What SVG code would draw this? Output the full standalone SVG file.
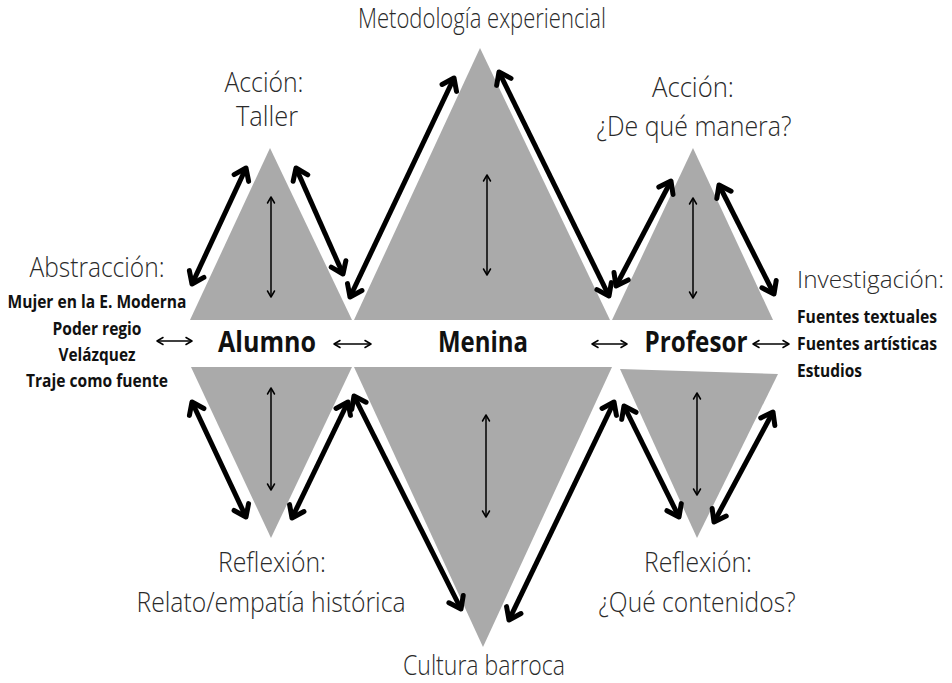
<svg xmlns="http://www.w3.org/2000/svg" width="952" height="683" viewBox="0 0 952 683">
<style>
.tri{fill:#aaaaaa}
.thick{stroke:#000;stroke-width:5;fill:none;marker-start:url(#ah);marker-end:url(#ah)}
.thin{stroke:#000;stroke-width:1.5;fill:none;marker-start:url(#at);marker-end:url(#at)}
.lt{font-family:"Open Sans","Liberation Sans",sans-serif;font-weight:300;font-size:27px;fill:#2a2a2a;text-anchor:middle}
.bd{font-family:"Open Sans","Liberation Sans",sans-serif;font-weight:700;fill:#111;text-anchor:middle}
.big{font-size:28px}
.sm{font-size:17px}
</style>
<defs>
<marker id="ah" viewBox="-14 -11 18 22" markerWidth="18" markerHeight="22" refX="0" refY="0" orient="auto-start-reverse" markerUnits="userSpaceOnUse">
<path d="M-11,-8 L0,0 L-11,8" fill="none" stroke="#000" stroke-width="5" stroke-linecap="round" stroke-linejoin="round"/>
</marker>
<marker id="at" viewBox="-8 -5 10 10" markerWidth="10" markerHeight="10" refX="0" refY="0" orient="auto-start-reverse" markerUnits="userSpaceOnUse">
<path d="M-6,-3.5 L0,0 L-6,3.5" fill="none" stroke="#000" stroke-width="1.5" stroke-linecap="round" stroke-linejoin="round"/>
</marker>
</defs>
<rect width="952" height="683" fill="#fff"/>

<g id="tri-alumno-top"><polygon class="tri" points="270,148 190,320 352,320"/></g>
<g id="tri-menina-top"><polygon class="tri" points="480,48 354,320 610,320"/></g>
<g id="tri-profesor-top"><polygon class="tri" points="693,148 612,320 773,320"/></g>
<g id="tri-alumno-bottom"><polygon class="tri" points="191,367 352,367 271,538"/></g>
<g id="tri-menina-bottom"><polygon class="tri" points="354,367 612,367 483,647"/></g>
<g id="tri-profesor-bottom"><polygon class="tri" points="620,369 778,374 697,538"/></g>

<g id="connectors">
<line class="thick" x1="192" y1="284" x2="246" y2="168"/>
<line class="thick" x1="296" y1="168" x2="343" y2="274"/>
<line class="thick" x1="350" y1="297" x2="454" y2="78"/>
<line class="thick" x1="499" y1="72" x2="609" y2="296"/>
<line class="thick" x1="616" y1="286" x2="671" y2="181"/>
<line class="thick" x1="719" y1="185" x2="774" y2="294"/>
<line class="thick" x1="192" y1="402" x2="246" y2="517"/>
<line class="thick" x1="292" y1="518" x2="348" y2="402"/>
<line class="thick" x1="354" y1="396" x2="461" y2="609"/>
<line class="thick" x1="509" y1="620" x2="614" y2="402"/>
<line class="thick" x1="624" y1="406" x2="679" y2="517"/>
<line class="thick" x1="714" y1="522" x2="773" y2="412"/>
<line class="thin" x1="271" y1="197" x2="271" y2="297"/>
<line class="thin" x1="487" y1="175" x2="487" y2="275"/>
<line class="thin" x1="693" y1="198" x2="693" y2="298"/>
<line class="thin" x1="271" y1="388" x2="271" y2="490"/>
<line class="thin" x1="486" y1="415" x2="486" y2="517"/>
<line class="thin" x1="697" y1="393" x2="697" y2="495"/>
<line class="thin" x1="157" y1="341" x2="192" y2="341"/>
<line class="thin" x1="334" y1="344" x2="371" y2="344"/>
<line class="thin" x1="592" y1="344" x2="627" y2="344"/>
<line class="thin" x1="753" y1="344" x2="789" y2="344"/>
</g>

<g id="label-metodologia"><text class="lt" x="482" y="28" textLength="248" lengthAdjust="spacingAndGlyphs">Metodología experiencial</text></g>
<g id="label-accion-taller">
<text class="lt" x="264" y="92" textLength="79" lengthAdjust="spacingAndGlyphs">Acción:</text>
<text class="lt" x="267" y="126" textLength="62" lengthAdjust="spacingAndGlyphs">Taller</text>
</g>
<g id="label-accion-manera">
<text class="lt" x="693" y="97" textLength="82" lengthAdjust="spacingAndGlyphs">Acción:</text>
<text class="lt" x="694" y="136" textLength="195" lengthAdjust="spacingAndGlyphs">¿De qué manera?</text>
</g>
<g id="label-abstraccion">
<text class="lt" x="97" y="277" textLength="135" lengthAdjust="spacingAndGlyphs">Abstracción:</text>
<text class="bd sm" x="97" y="308" textLength="179" lengthAdjust="spacingAndGlyphs">Mujer en la E. Moderna</text>
<text class="bd sm" x="97" y="335" textLength="89" lengthAdjust="spacingAndGlyphs">Poder regio</text>
<text class="bd sm" x="97" y="361" textLength="77" lengthAdjust="spacingAndGlyphs">Velázquez</text>
<text class="bd sm" x="97" y="387" textLength="142" lengthAdjust="spacingAndGlyphs">Traje como fuente</text>
</g>
<g id="label-investigacion">
<text class="lt" x="797" y="288" style="text-anchor:start;font-size:23.5px" textLength="147" lengthAdjust="spacingAndGlyphs">Investigación:</text>
<text class="bd sm" x="797" y="323" style="text-anchor:start" textLength="140" lengthAdjust="spacingAndGlyphs">Fuentes textuales</text>
<text class="bd sm" x="797" y="350" style="text-anchor:start" textLength="140" lengthAdjust="spacingAndGlyphs">Fuentes artísticas</text>
<text class="bd sm" x="797" y="377" style="text-anchor:start" textLength="65" lengthAdjust="spacingAndGlyphs">Estudios</text>
</g>
<g id="node-alumno"><text class="bd big" x="267" y="352" textLength="98" lengthAdjust="spacingAndGlyphs">Alumno</text></g>
<g id="node-menina"><text class="bd big" x="483" y="352" textLength="90" lengthAdjust="spacingAndGlyphs">Menina</text></g>
<g id="node-profesor"><text class="bd big" x="696" y="352" textLength="103" lengthAdjust="spacingAndGlyphs">Profesor</text></g>
<g id="label-reflexion-relato">
<text class="lt" x="272" y="572" textLength="108" lengthAdjust="spacingAndGlyphs">Reflexión:</text>
<text class="lt" x="271" y="612" textLength="269" lengthAdjust="spacingAndGlyphs">Relato/empatía histórica</text>
</g>
<g id="label-reflexion-contenidos">
<text class="lt" x="698" y="572" textLength="108" lengthAdjust="spacingAndGlyphs">Reflexión:</text>
<text class="lt" x="697" y="612" textLength="197" lengthAdjust="spacingAndGlyphs">¿Qué contenidos?</text>
</g>
<g id="label-cultura"><text class="lt" x="484" y="675" textLength="162" lengthAdjust="spacingAndGlyphs">Cultura barroca</text></g>
</svg>
